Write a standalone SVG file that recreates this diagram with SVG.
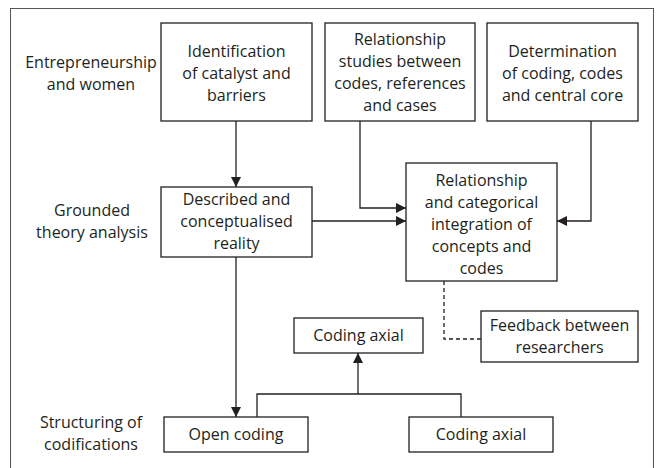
<svg xmlns="http://www.w3.org/2000/svg" width="661" height="468" viewBox="0 0 661 468">
<style>
text{font-family:"Open Sans","Noto Sans","Liberation Sans",sans-serif;font-size:16px;fill:#231f20;text-anchor:middle}
.box{fill:#fff;stroke:#231f20;stroke-width:1.3}
.ln{fill:none;stroke:#231f20;stroke-width:1.3}
.dash{fill:none;stroke:#231f20;stroke-width:1.3;stroke-dasharray:4,3}
</style>
<defs>
<marker id="ah" viewBox="0 0 10 10" refX="10" refY="5" markerWidth="10" markerHeight="10" markerUnits="userSpaceOnUse" orient="auto">
<path d="M0,0 L10,5 L0,10 Z" fill="#231f20"/>
</marker>
</defs>
<rect x="10.5" y="8.5" width="643" height="470" fill="#fff" stroke="#555" stroke-width="1"/>
<g id="labels">
<text x="91" y="68">Entrepreneurship</text>
<text x="91" y="90">and women</text>
<text x="92" y="216">Grounded</text>
<text x="92" y="238">theory analysis</text>
<text x="91" y="428">Structuring of</text>
<text x="91" y="450">codifications</text>
</g>
<g id="connectors">
<path class="ln" d="M236,121 V187" marker-end="url(#ah)"/>
<path class="ln" d="M312,221 H406" marker-end="url(#ah)"/>
<path class="ln" d="M360,121 V208 H406" marker-end="url(#ah)"/>
<path class="ln" d="M591,121 V221 H557" marker-end="url(#ah)"/>
<path class="dash" d="M444,281 V339 H481"/>
<path class="ln" d="M236,257 V417" marker-end="url(#ah)"/>
<path class="ln" d="M257,417 V394 H461 V417"/>
<path class="ln" d="M358,394 V353" marker-end="url(#ah)"/>
</g>
<g id="n1"><rect class="box" x="161" y="23" width="151" height="98"/>
<text x="236.5" y="57">Identification</text><text x="236.5" y="79">of catalyst and</text><text x="236.5" y="101">barriers</text></g>
<g id="n2"><rect class="box" x="325" y="23" width="150" height="98"/>
<text x="400" y="45">Relationship</text><text x="400" y="67">studies between</text><text x="400" y="89">codes, references</text><text x="400" y="111">and cases</text></g>
<g id="n3"><rect class="box" x="487" y="23" width="151" height="98"/>
<text x="562.5" y="57">Determination</text><text x="562.5" y="79">of coding, codes</text><text x="562.5" y="101">and central core</text></g>
<g id="n4"><rect class="box" x="161" y="187" width="151" height="70"/>
<text x="236.5" y="205">Described and</text><text x="236.5" y="227">conceptualised</text><text x="236.5" y="249">reality</text></g>
<g id="n5"><rect class="box" x="406" y="163" width="151" height="118"/>
<text x="481.5" y="186">Relationship</text><text x="481.5" y="208">and categorical</text><text x="481.5" y="230">integration of</text><text x="481.5" y="252">concepts and</text><text x="481.5" y="274">codes</text></g>
<g id="n6"><rect class="box" x="481" y="311" width="157" height="51"/>
<text x="559.5" y="331">Feedback between</text><text x="559.5" y="353">researchers</text></g>
<g id="n7"><rect class="box" x="294" y="318" width="129" height="35"/>
<text x="358.5" y="341">Coding axial</text></g>
<g id="n8"><rect class="box" x="164" y="417" width="144" height="35"/>
<text x="236" y="440">Open coding</text></g>
<g id="n9"><rect class="box" x="409" y="417" width="144" height="35"/>
<text x="481" y="440">Coding axial</text></g>
</svg>
